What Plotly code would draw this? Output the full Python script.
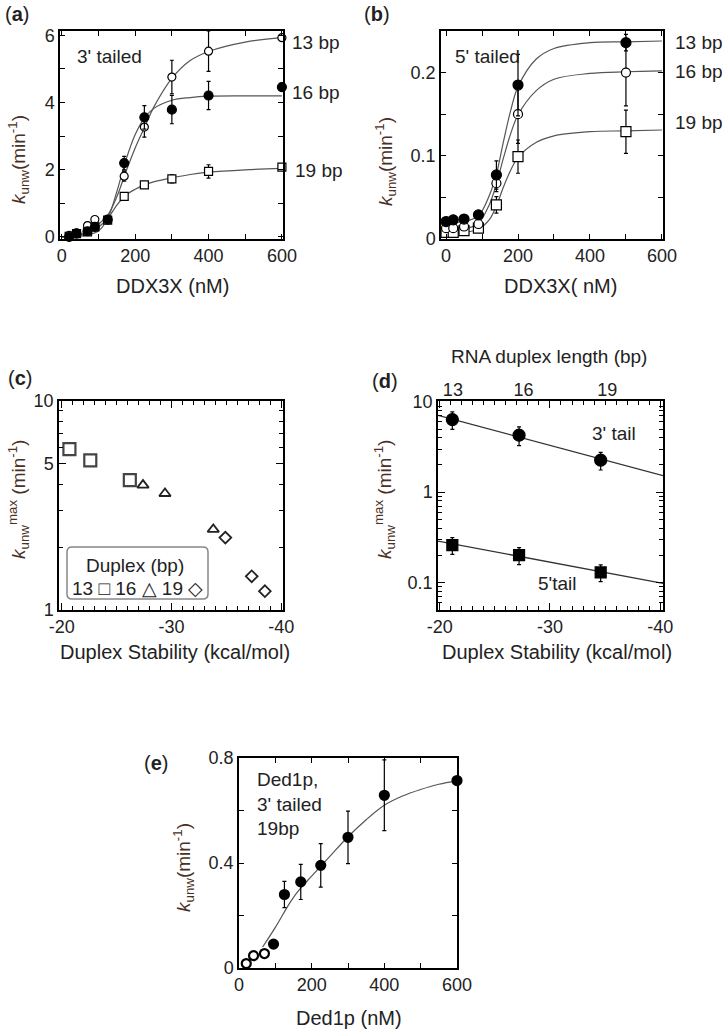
import plotly.graph_objects as go

FONT = "Liberation Sans, Arial, sans-serif"
W, H = 722, 1031
TXT = "#222222"
YT = "#4a2f25"

# ---------------- panel (a): 3' tailed, DDX3X ----------------
a_conc = [20, 40, 70, 90, 125, 170, 225, 300, 400, 600]
a_13 = [0.05, 0.12, 0.34, 0.52, 0.50, 1.81, 3.27, 4.76, 5.53, 5.93]
a_13_err = [0, 0, 0, 0, 0, 0.15, 0.30, 0.50, 0.60, 0]
a_16 = [0.0, 0.10, 0.17, 0.30, 0.52, 2.20, 3.56, 3.79, 4.21, 4.46]
a_16_err = [0, 0, 0, 0, 0, 0.20, 0.35, 0.42, 0.42, 0]
a_19 = [0.02, 0.10, 0.15, 0.30, 0.50, 1.21, 1.55, 1.73, 1.95, 2.08]
a_19_err = [0, 0, 0, 0, 0, 0.06, 0.08, 0.12, 0.20, 0]
a_fit_x = [0, 50, 100, 125, 150, 175, 200, 225, 250, 300, 350, 400, 500, 600]
a_fit_13 = [0, 0.05, 0.38, 0.65, 1.20, 1.95, 2.65, 3.25, 3.85, 4.72, 5.25, 5.52, 5.80, 5.93]
a_fit_16 = [0, 0.02, 0.18, 0.55, 1.35, 2.30, 3.05, 3.54, 3.82, 4.07, 4.15, 4.19, 4.20, 4.20]
a_fit_19 = [0, 0.07, 0.30, 0.55, 0.95, 1.25, 1.42, 1.55, 1.64, 1.76, 1.86, 1.93, 2.00, 2.04]

# ---------------- panel (b): 5' tailed, DDX3X ----------------
b_conc = [0, 20, 50, 90, 140, 200, 500]
b_13 = [0.021, 0.023, 0.024, 0.029, 0.077, 0.185, 0.236]
b_13_err = [0, 0, 0, 0, 0.017, 0.037, 0.010]
b_16 = [0.013, 0.013, 0.015, 0.018, 0.067, 0.150, 0.200]
b_16_err = [0, 0, 0, 0, 0.010, 0.035, 0.040]
b_19 = [0.008, 0.008, 0.010, 0.013, 0.041, 0.099, 0.129]
b_19_err = [0, 0, 0, 0, 0.010, 0.020, 0.026]
b_fit_x = [0, 50, 90, 120, 140, 160, 180, 200, 250, 300, 400, 500, 600]
b_fit_13 = [0.020, 0.021, 0.028, 0.052, 0.078, 0.118, 0.155, 0.183, 0.216, 0.229, 0.236, 0.237, 0.238]
b_fit_16 = [0.012, 0.012, 0.019, 0.041, 0.066, 0.098, 0.127, 0.149, 0.178, 0.192, 0.199, 0.201, 0.202]
b_fit_19 = [0.008, 0.008, 0.012, 0.023, 0.040, 0.063, 0.083, 0.098, 0.116, 0.124, 0.129, 0.130, 0.131]

# ---------------- panel (c): k max vs stability ----------------
c_stab_13 = [-20.7, -22.6, -26.2]
c_k_13 = [5.88, 5.20, 4.18]
c_stab_16 = [-27.4, -29.4, -33.8]
c_k_16 = [3.96, 3.61, 2.43]
c_stab_19 = [-34.9, -37.3, -38.5]
c_k_19 = [2.22, 1.45, 1.23]

# ---------------- panel (d): 3' and 5' tails ----------------
d_stab = [-21.15, -27.2, -34.6]
d_3tail = [6.37, 4.28, 2.26]
d_3tail_err = [1.4, 1.0, 0.5]
d_5tail = [0.259, 0.200, 0.129]
d_5tail_err = [0.055, 0.043, 0.027]
d_fit_x = [-19.85, -40.25]
d_fit_3 = [7.1, 1.52]
d_fit_5 = [0.287, 0.0975]
d_len_pos = [-21.2, -27.6, -35.2]
d_len_labels = ["13", "16", "19"]

# ---------------- panel (e): Ded1p ----------------
e_conc = [20, 40, 70, 95, 125, 170, 225, 300, 400, 600]
e_k = [0.017, 0.047, 0.055, 0.091, 0.280, 0.328, 0.391, 0.498, 0.658, 0.714]
e_err = [0, 0, 0, 0, 0.05, 0.067, 0.083, 0.10, 0.135, 0]
e_fill = ["white", "white", "white", "black", "black", "black", "black", "black", "black", "black"]
e_fit_x = [65, 100, 143, 170, 200, 250, 300, 350, 400, 450, 500, 550, 600]
e_fit = [0.08, 0.155, 0.255, 0.305, 0.35, 0.425, 0.50, 0.565, 0.62, 0.655, 0.68, 0.70, 0.713]

stab_ticks = [-20, -30, -40]
stab_labels = ["-20", "-30", "-40"]


def px(x):
    return x / W


def py(y):
    return 1 - y / H


fig = go.Figure()

CURVE = dict(color="#555555", width=1.2, shape="spline")


def ERR(arr):
    return dict(type="data", array=arr, color="black", thickness=1.2, width=2)


def curve(x, y, xa, ya):
    fig.add_trace(go.Scatter(x=x, y=y, mode="lines", line=CURVE, xaxis=xa, yaxis=ya,
                             hoverinfo="skip", showlegend=False))


def pts(x, y, err, xa, ya, symbol, fill, size, lw=1.2):
    fig.add_trace(go.Scatter(
        x=x, y=y, mode="markers", xaxis=xa, yaxis=ya, showlegend=False,
        error_y=ERR(err) if err is not None else None,
        marker=dict(symbol=symbol, size=size, color=fill, line=dict(color="black", width=lw)),
        cliponaxis=False))


# (a)
curve(a_fit_x, a_fit_13, "x", "y")
curve(a_fit_x, a_fit_16, "x", "y")
curve(a_fit_x, a_fit_19, "x", "y")
pts(a_conc, a_19, a_19_err, "x", "y", "square", "white", 8)
pts(a_conc, a_13, a_13_err, "x", "y", "circle", "white", 8)
pts(a_conc, a_16, a_16_err, "x", "y", "circle", "black", 9)

# (b)
curve(b_fit_x, b_fit_13, "x2", "y2")
curve(b_fit_x, b_fit_16, "x2", "y2")
curve(b_fit_x, b_fit_19, "x2", "y2")
pts(b_conc, b_19, b_19_err, "x2", "y2", "square", "white", 10)
pts(b_conc, b_16, b_16_err, "x2", "y2", "circle", "white", 9)
pts(b_conc, b_13, b_13_err, "x2", "y2", "circle", "black", 10)

# (c)
pts(c_stab_13, c_k_13, None, "x3", "y3", "square-open", "#444444", 12, 2.2)
pts(c_stab_16, c_k_16, None, "x3", "y3", "triangle-up-open", "#222222", 10, 1.8)
pts(c_stab_19, c_k_19, None, "x3", "y3", "diamond-open", "#222222", 9, 1.8)

# (d)
fig.add_trace(go.Scatter(x=d_fit_x, y=d_fit_3, mode="lines", line=dict(color="#333333", width=1.3),
                         xaxis="x4", yaxis="y4", hoverinfo="skip", showlegend=False))
fig.add_trace(go.Scatter(x=d_fit_x, y=d_fit_5, mode="lines", line=dict(color="#333333", width=1.3),
                         xaxis="x4", yaxis="y4", hoverinfo="skip", showlegend=False))
pts(d_stab, d_3tail, d_3tail_err, "x4", "y4", "circle", "black", 12)
pts(d_stab, d_5tail, d_5tail_err, "x4", "y4", "square", "black", 11)
fig.add_trace(go.Scatter(x=d_len_pos, y=d_3tail, mode="none", xaxis="x6", yaxis="y4",
                         hoverinfo="skip", showlegend=False))

# (e)
curve(e_fit_x, e_fit, "x5", "y5")
pts(e_conc, e_k, e_err, "x5", "y5", "circle", e_fill, 9, 2.2)

TICKFONT = dict(family=FONT, size=18, color=TXT)


def lin_axis(dom, rng, dtick, mdtick, anchor):
    return dict(domain=dom, range=rng, anchor=anchor, automargin=False, showline=True,
                linecolor="black", linewidth=1.5, mirror="ticks", ticks="inside", ticklen=5,
                tickwidth=1.2, tickcolor="black", tick0=0, dtick=dtick, showgrid=False,
                zeroline=False,
                minor=dict(dtick=mdtick, tick0=0, ticks="inside", ticklen=5, tickwidth=1.2,
                           tickcolor="black", showgrid=False),
                tickfont=TICKFONT)


def log_axis(dom, rng, vals, texts, minor_vals, anchor):
    return dict(domain=dom, type="log", range=rng, anchor=anchor, automargin=False,
                showline=True, linecolor="black", linewidth=1.5, mirror="ticks", ticks="inside",
                ticklen=7, tickwidth=1.2, tickcolor="black", tickmode="array", tickvals=vals,
                ticktext=texts, showgrid=False, zeroline=False,
                minor=dict(tickmode="array", tickvals=minor_vals, ticks="inside", ticklen=4,
                           tickwidth=1.2, tickcolor="black", showgrid=False),
                tickfont=TICKFONT)


def stab_axis(dom, rng, anchor):
    return dict(domain=dom, range=rng, anchor=anchor, automargin=False, showline=True,
                linecolor="black", linewidth=1.5, mirror="ticks", ticks="inside", ticklen=7,
                tickwidth=1.2, tickcolor="black", tickmode="array", tickvals=stab_ticks,
                ticktext=stab_labels, showgrid=False, zeroline=False,
                minor=dict(tickmode="linear", dtick=1, tick0=-20, ticks="inside", ticklen=4,
                           tickwidth=1.2, tickcolor="black", showgrid=False),
                tickfont=TICKFONT)


dom_a_x = [px(60), px(283)]
dom_b_x = [px(441), px(663)]
dom_top_y = [py(239), py(31)]
dom_c_x = [px(59), px(283)]
dom_d_x = [px(438), px(663)]
dom_mid_y = [py(610), py(401)]
dom_e_x = [px(239), px(457)]
dom_e_y = [py(968), py(758)]

minor_c = [2, 3, 4, 6, 7, 8, 9]
minor_d = [0.06, 0.07, 0.08, 0.09, 0.2, 0.3, 0.4, 0.5, 0.6, 0.7, 0.8, 0.9,
           2, 3, 4, 5, 6, 7, 8, 9]

fig.update_layout(
    template="none",
    width=W, height=H, margin=dict(l=0, r=0, t=0, b=0, pad=0), autosize=False,
    paper_bgcolor="white", plot_bgcolor="white", showlegend=False,
    font=dict(family=FONT, color=TXT),
    xaxis=lin_axis(dom_a_x, [-5, 603], 200, 100, "y"),
    yaxis=lin_axis(dom_top_y, [-0.06, 6.13], 2, 1, "x"),
    xaxis2=lin_axis(dom_b_x, [-14, 603], 200, 100, "y2"),
    yaxis2=lin_axis(dom_top_y, [0, 0.25], 0.1, 0.05, "x2"),
    xaxis3=stab_axis(dom_c_x, [-19.75, -40.15], "y3"),
    yaxis3=log_axis(dom_mid_y, [0, 1], [1, 5, 10], ["1", "5", "10"], minor_c, "x3"),
    xaxis4=stab_axis(dom_d_x, [-19.85, -40.25], "y4"),
    yaxis4=log_axis(dom_mid_y, [-1.306, 1.01], [0.1, 1, 10], ["0.1", "1", "10"], minor_d, "x4"),
    xaxis6=dict(overlaying="x4", anchor="y4", side="top", range=[-19.85, -40.25],
                automargin=False, tickmode="array", tickvals=d_len_pos, ticktext=d_len_labels,
                ticks="", showline=False, showgrid=False, zeroline=False, tickfont=TICKFONT),
    xaxis5=lin_axis(dom_e_x, [0, 600], 200, 100, "y5"),
    yaxis5=lin_axis(dom_e_y, [0, 0.8], 0.4, 0.2, "x5"),
)

anns = []


def ann(text, x, y, size=19, xanchor="center", yanchor="middle", angle=0, color=TXT, align="center"):
    anns.append(dict(text=text, x=px(x), y=py(y), xref="paper", yref="paper", showarrow=False,
                     xanchor=xanchor, yanchor=yanchor, textangle=angle, align=align,
                     font=dict(family=FONT, size=size, color=color)))


YTITLE = "<i>k</i><sub>unw</sub>(min<sup>-1</sup>)"
YTITLE_MAX = "<i>k</i><sub>unw</sub><sup>max</sup> (min<sup>-1</sup>)"

# panel letters
ann("(<b>a</b>)", 17, 14, 20)
ann("(<b>b</b>)", 377, 14, 20)
ann("(<b>c</b>)", 20, 378, 20)
ann("(<b>d</b>)", 385, 381, 20)
ann("(<b>e</b>)", 156, 763, 20)

# (a)
ann("DDX3X (nM)", 172, 286, 20)
ann(YTITLE, 18, 160, 19, angle=-90, color=YT)
ann("3' tailed", 75, 57, 19, xanchor="left")
ann("13 bp", 290, 43, 19, xanchor="left")
ann("16 bp", 290, 92, 19, xanchor="left")
ann("19 bp", 293, 170, 19, xanchor="left")

# (b)
ann("DDX3X( nM)", 560, 286, 20)
ann(YTITLE, 385, 162, 19, angle=-90, color=YT)
ann("5' tailed", 453, 57, 19, xanchor="left")
ann("13 bp", 673, 43, 19, xanchor="left")
ann("16 bp", 673, 72, 19, xanchor="left")
ann("19 bp", 673, 123, 19, xanchor="left")

# (c)
ann("Duplex Stability (kcal/mol)", 175, 652, 20)
ann(YTITLE_MAX, 18, 500, 19, angle=-90, color=YT)
ann("Duplex (bp)", 135, 565, 19)
ann("13 \u25a1 16 \u25b3 19 \u25c7", 137, 588, 19)

# (d)
ann("Duplex Stability (kcal/mol)", 557, 652, 20)
ann(YTITLE_MAX, 384, 500, 19, angle=-90, color=YT)
ann("RNA duplex length (bp)", 549, 357, 19)
ann("3' tail", 614, 433, 19)
ann("5'tail", 557, 583, 19)

# (e)
ann("Ded1p (nM)", 349, 1018, 20)
ann(YTITLE, 183, 868, 19, angle=-90, color=YT)
ann("Ded1p,<br>3' tailed<br>19bp", 255, 804, 19, xanchor="left", align="left")

fig.update_layout(annotations=anns)

# legend box in (c): rounded rectangle
x0, x1, y0, y1, r = 67, 208, 547, 599, 5
path = (f"M {px(x0 + r)},{py(y0)} L {px(x1 - r)},{py(y0)} Q {px(x1)},{py(y0)} {px(x1)},{py(y0 + r)} "
        f"L {px(x1)},{py(y1 - r)} Q {px(x1)},{py(y1)} {px(x1 - r)},{py(y1)} "
        f"L {px(x0 + r)},{py(y1)} Q {px(x0)},{py(y1)} {px(x0)},{py(y1 - r)} "
        f"L {px(x0)},{py(y0 + r)} Q {px(x0)},{py(y0)} {px(x0 + r)},{py(y0)} Z")
fig.add_shape(type="path", path=path, xref="paper", yref="paper",
              line=dict(color="#888888", width=1.5), fillcolor="white", layer="below")

fig.write_html("out.html", config={"displayModeBar": False},
               post_script="document.body.style.margin='0';document.body.style.overflow='hidden';")
